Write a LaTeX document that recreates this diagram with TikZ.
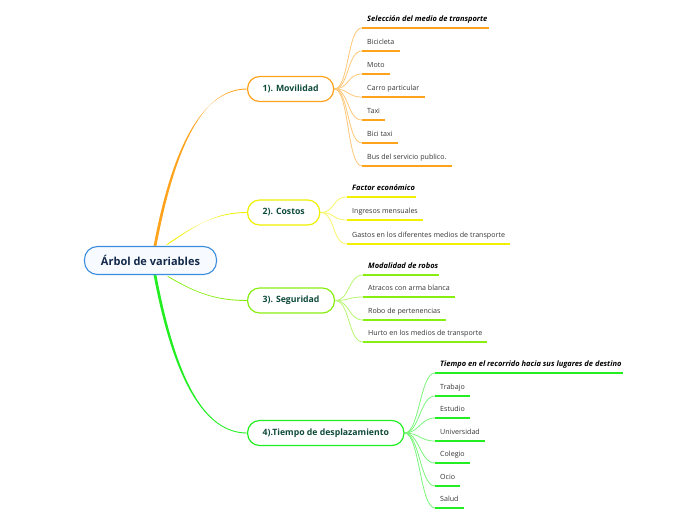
\documentclass[tikz,border=0pt]{standalone}
\usepackage{fontspec}
\setmainfont{Open Sans}
\usetikzlibrary{backgrounds}
\definecolor{cOr}{HTML}{FFA21C}
\definecolor{cYe}{HTML}{F0F000}
\definecolor{cLg}{HTML}{88EE11}
\definecolor{cGr}{HTML}{22EE22}
\definecolor{cBl}{HTML}{3A8DDE}
\definecolor{cTx}{HTML}{0E4A3A}
\definecolor{cRt}{HTML}{13294B}
\definecolor{cLf}{HTML}{333333}
\newcommand\taperline[6]{% color, start name, end name, c1, c2, half-width shift at start
  \fill[#1] ([shift={(-#6)}]#2) .. controls +#4 and +#5 .. ([yshift=-0.45pt]#3.west)
    -- ([yshift=0.45pt]#3.west) .. controls +#5 and +#4 .. ([shift={(#6)}]#2) -- cycle;}
\newcommand\leafnode[5]{% name, x, y, color, text
  \node[leaf] (#1) at (#2,#3) {#5};
  \draw[uline=#4] (#1.south west) -- (#1.south east);}
\newcommand\headnode[5]{% name, x, y, color, text
  \node[leaf,head] (#1) at (#2,#3) {#5};
  \draw[uline=#4] (#1.south west) -- ([xshift=-4pt]#1.south east);}
\begin{document}
\begin{tikzpicture}[x=1pt,y=-1pt,
  root/.style={draw=cBl, line width=1.1pt, fill=cBl!4, rounded corners=13pt,
    minimum height=28pt, inner xsep=16.5pt, text=cRt,
    font=\bfseries\fontsize{11}{13}\selectfont},
  main/.style={draw=#1, line width=1.2pt, fill=white, rounded corners=12pt,
    minimum height=25pt, inner xsep=15pt, anchor=west, text=cTx,
    font=\bfseries\fontsize{8.7}{10}\selectfont},
  leaf/.style={anchor=south west, inner xsep=5pt, inner ysep=4.5pt,
    text height=5.5pt, text depth=1.5pt, text=cLf,
    font=\fontsize{7.1}{8}\selectfont},
  head/.style={font=\bfseries\itshape\fontsize{7.5}{8}\selectfont, text=black},
  uline/.style={draw=#1, line width=1.8pt},
  lc/.style={draw=#1!60, line width=0.8pt}]
\useasboundingbox (0,0) rectangle (696,520);

\node[root] (root) at (150.5,260.5) {Árbol de variables};
\node[main=cOr] (mob) at (247,89) {1). Movilidad};
\node[main=cYe] (cos) at (247,212.5) {2). Costos};
\node[main=cLg] (seg) at (247,300.5) {3). Seguridad};
\node[main=cGr] (tie) at (247,433) {4).Tiempo de desplazamiento};

% leaves: Movilidad
\headnode{m1}{362}{28}{cOr}{Selección del medio de transporte}
\leafnode{m2}{362}{51}{cOr}{Bicicleta}
\leafnode{m3}{362}{74}{cOr}{Moto}
\leafnode{m4}{362}{97}{cOr}{Carro particular}
\leafnode{m5}{362}{120}{cOr}{Taxi}
\leafnode{m6}{362}{143}{cOr}{Bici taxi}
\leafnode{m7}{362}{166}{cOr}{Bus del servicio publico.}
% Costos
\headnode{c1}{347}{197}{cYe}{Factor económico}
\leafnode{c2}{347}{220}{cYe}{Ingresos mensuales}
\leafnode{c3}{347}{244}{cYe}{Gastos en los diferentes medios de transporte}
% Seguridad
\headnode{s1}{363}{275}{cLg}{Modalidad de robos}
\leafnode{s2}{363}{297}{cLg}{Atracos con arma blanca}
\leafnode{s3}{363}{320}{cLg}{Robo de pertenencias}
\leafnode{s4}{363}{342}{cLg}{Hurto en los medios de transporte}
% Tiempo
\headnode{t1}{435}{373}{cGr}{Tiempo en el recorrido hacia sus lugares de destino}
\leafnode{t2}{435}{396}{cGr}{Trabajo}
\leafnode{t3}{435}{418}{cGr}{Estudio}
\leafnode{t4}{435}{441}{cGr}{Universidad}
\leafnode{t5}{435}{463}{cGr}{Colegio}
\leafnode{t6}{435}{486}{cGr}{Ocio}
\leafnode{t7}{435}{508}{cGr}{Salud}

\coordinate (sOr) at ([xshift=4.5pt]root.north);
\coordinate (sYe) at ([xshift=16.5pt,yshift=0.5pt]root.north);
\coordinate (sLg) at ([xshift=17.5pt,yshift=-0.5pt]root.south);
\coordinate (sGr) at ([xshift=4.5pt]root.south);

\begin{pgfonlayer}{background}
% leaf connectors
\foreach \l in {m1,m2,m3,m4,m5,m6,m7}
  \draw[lc=cOr] (mob.east) .. controls +(15,0) and +(-15,0) .. (\l.south west);
\foreach \l in {c1,c2,c3}
  \draw[lc=cYe] (cos.east) .. controls +(15,0) and +(-15,0) .. (\l.south west);
\foreach \l in {s1,s2,s3,s4}
  \draw[lc=cLg] (seg.east) .. controls +(15,0) and +(-15,0) .. (\l.south west);
\foreach \l in {t1,t2,t3,t4,t5,t6,t7}
  \draw[lc=cGr] (tie.east) .. controls +(15,0) and +(-15,0) .. (\l.south west);
% root connectors (tapered)
\taperline{cOr}{sOr}{mob}{(20,-106)}{(-42,0)}{1.4pt,0pt}
\taperline{cYe}{sYe}{cos}{(28,-19)}{(-32,0)}{0.8pt,0.9pt}
\taperline{cLg}{sLg}{seg}{(27,16)}{(-32,0)}{0.8pt,-0.9pt}
\taperline{cGr}{sGr}{tie}{(20,106)}{(-42,0)}{1.4pt,0pt}
\end{pgfonlayer}
\end{tikzpicture}
\end{document}
